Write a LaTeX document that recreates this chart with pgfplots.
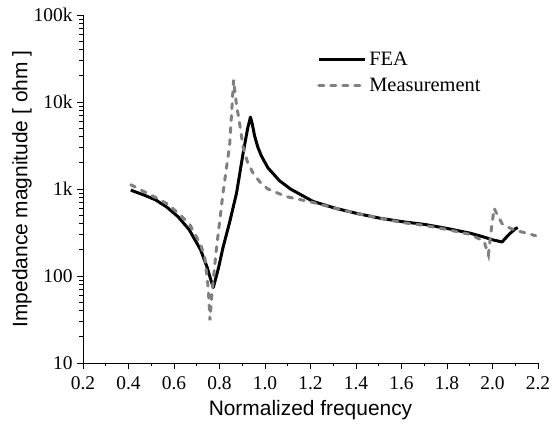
\documentclass[border=0pt]{standalone}
\usepackage{pgfplots}
\pgfplotsset{compat=1.18}
\usepackage{fontspec}
\setmainfont{Liberation Serif}
\newfontfamily\arialfont{Liberation Sans}
\definecolor{measgray}{RGB}{128,128,128}
\begin{document}
\begin{tikzpicture}
\begin{axis}[
  scale only axis,
  width=455bp, height=348bp,
  at={(0,0)}, anchor=south west,
  ymode=log,
  xmin=0.2, xmax=2.2, ymin=10, ymax=100000,
  axis x line*=bottom, axis y line*=left,
  axis line style={line width=1pt},
  xtick={0.2,0.4,...,2.21},
  minor xtick={0.3,0.5,...,2.11},
  ytick={10,100,1000,10000,100000},
  yticklabels={10,100,1k,10k,100k},
  major tick length=6bp, minor tick length=3.5bp,
  tick style={line width=0.8pt, black},
  tick align=outside,
  x tick label style={yshift=-4bp, /pgf/number format/fixed, /pgf/number format/fixed zerofill, /pgf/number format/precision=1},
  /pgf/number format/assume math mode=true,
  ticklabel style={font=\fontsize{19.5}{21}\selectfont},
  yticklabel style={xshift=-1bp},
  xlabel={Normalized frequency},
  ylabel={Impedance magnitude [ ohm ]},
  label style={font=\arialfont\fontsize{21}{24}\selectfont},
  xlabel style={yshift=-4bp},
  ylabel style={yshift=-5bp},
  legend style={draw=none, fill=none, at={(0.508,0.905)}, anchor=north west,
    font=\fontsize{20.5}{22}\selectfont, row sep=7bp,
    nodes={inner xsep=3bp}},
  legend cell align=left,
  legend image code/.code={\draw[#1] (0bp,0bp) -- (46bp,0bp);},
]
\addplot[black, line width=3pt, line join=round] coordinates {
(0.410,970) (0.469,850) (0.519,750) (0.568,620) (0.618,480) (0.667,340)
(0.717,200) (0.746,125) (0.761,92) (0.773,74) (0.784,95) (0.796,125)
(0.815,210) (0.845,420) (0.875,900) (0.904,2600) (0.924,5000) (0.936,6700)
(0.944,5600) (0.954,4100) (0.969,3000) (0.984,2400) (1.013,1750) (1.063,1250)
(1.112,1000) (1.211,720) (1.310,600) (1.409,520) (1.508,460) (1.607,420)
(1.706,390) (1.805,350) (1.903,310) (1.953,285) (2.002,260) (2.042,246)
(2.072,300) (2.101,350) (2.111,360)
};
\addlegendentry{FEA}
\addplot[measgray, line width=3pt, line cap=round, dash pattern=on 5bp off 7bp] coordinates {
(0.410,1120) (0.469,930) (0.519,800) (0.568,680) (0.618,530) (0.667,400)
(0.717,230) (0.736,160) (0.751,70) (0.758,31) (0.766,60) (0.786,200)
(0.815,880) (0.845,3300) (0.862,18000) (0.875,9000) (0.885,6500) (0.904,3000)
(0.924,2000) (0.949,1500) (0.984,1150) (1.013,1000) (1.092,820) (1.211,700)
(1.310,600) (1.409,520) (1.508,460) (1.607,410) (1.706,380) (1.805,340)
(1.903,300) (1.963,250) (1.982,175) (1.992,300) (2.007,600) (2.022,500)
(2.042,400) (2.072,360) (2.101,335) (2.151,310) (2.190,290)
};
\addlegendentry{Measurement}
\end{axis}
\pgfresetboundingbox
\path (-83bp,-62bp) rectangle (474bp,363bp);
\end{tikzpicture}
\end{document}
